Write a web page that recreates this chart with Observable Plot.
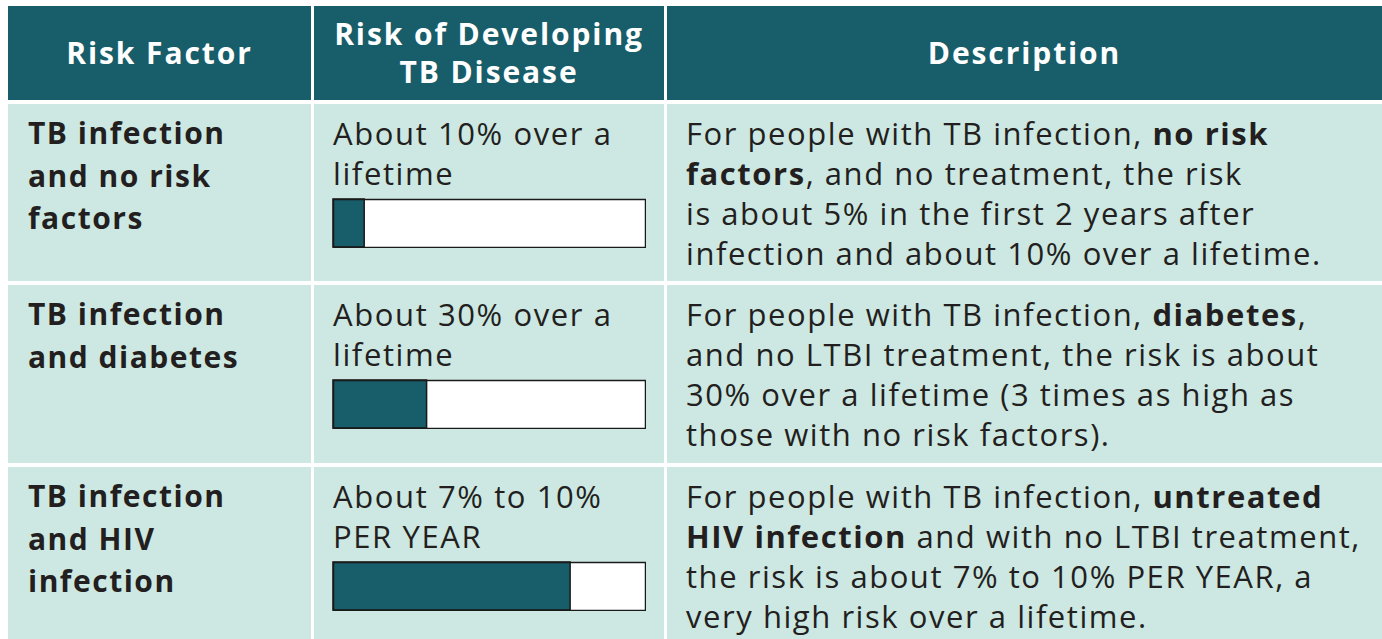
<!DOCTYPE html>
<html>
<head>
<meta charset="utf-8">
<script src="https://cdn.jsdelivr.net/npm/d3@7"></script>
<script src="https://cdn.jsdelivr.net/npm/@observablehq/plot@0.6"></script>
<style>
  html, body { margin: 0; padding: 0; background: #ffffff; width: 1382px; height: 639px; overflow: hidden; }
  #table {
    position: absolute; left: 8px; top: 6px;
    display: grid;
    grid-template-columns: 303px 350px 715px;
    grid-template-rows: 94px 177px 178px 180px;
    column-gap: 3px; row-gap: 4px;
    font-family: "Open Sans", Lato, sans-serif;
    color: #231f20;
  }
  .head {
    background: #175d6a; color: #ffffff; font-weight: 700;
    font-size: 30px; line-height: 38px;
    display: flex; flex-direction: column; justify-content: center; align-items: center;
    letter-spacing: 1.9px;
  }
  .cell { background: #cde8e2; box-sizing: border-box; white-space: nowrap; }
  .factor { font-weight: 700; font-size: 30px; line-height: 42.5px; padding: 8px 0 0 20px; letter-spacing: 1.5px; }
  .risk { font-size: 31px; line-height: 40px; padding: 9px 0 0 19px; letter-spacing: 1.6px; }
  .desc { font-size: 31px; line-height: 40px; padding: 9px 0 0 19px; letter-spacing: 1.55px; }
  .desc b { font-weight: 700; }
  .bar { margin-top: 5px; margin-left: -1px; }
  .bar svg { display: block; }
</style>
</head>
<body>
<div id="table"></div>
<script>
// ---- data ----
const headers = [["Risk Factor"], ["Risk of Developing", "TB Disease"], ["Description"]];
const riskFactors = [
  ["TB infection", "and no risk", "factors"],
  ["TB infection", "and diabetes"],
  ["TB infection", "and HIV", "infection"]
];
const riskLabels = [
  ["About 10% over a", "lifetime"],
  ["About 30% over a", "lifetime"],
  ["About 7% to 10%", "PER YEAR"]
];
const riskShares = [10, 30, 76];   // filled share of each bar (%)
const descriptions = [
  ["For people with TB infection, **no risk**",
   "**factors**, and no treatment, the risk",
   "is about 5% in the first 2 years after",
   "infection and about 10% over a lifetime."],
  ["For people with TB infection, **diabetes**,",
   "and no LTBI treatment, the risk is about",
   "30% over a lifetime (3 times as high as",
   "those with no risk factors)."],
  ["For people with TB infection, **untreated**",
   "**HIV infection** and with no LTBI treatment,",
   "the risk is about 7% to 10% PER YEAR, a",
   "very high risk over a lifetime."]
];

const teal = "#175d6a";
const table = document.getElementById("table");

function addLines(el, lines, rich) {
  for (const line of lines) {
    const div = document.createElement("div");
    if (rich) {
      line.split("**").forEach((part, i) => {
        if (!part) return;
        const node = i % 2 ? document.createElement("b") : document.createElement("span");
        node.textContent = part;
        div.appendChild(node);
      });
    } else div.textContent = line;
    el.appendChild(div);
  }
}

headers.forEach(h => {
  const c = document.createElement("div");
  c.className = "head";
  addLines(c, h, false);
  table.appendChild(c);
});

riskFactors.forEach((f, i) => {
  const c1 = document.createElement("div");
  c1.className = "cell factor";
  addLines(c1, f, false);
  table.appendChild(c1);

  const c2 = document.createElement("div");
  c2.className = "cell risk";
  addLines(c2, riskLabels[i], false);
  const barWrap = document.createElement("div");
  barWrap.className = "bar";
  const chart = Plot.plot({
    width: 314, height: 50,
    margin: 1,
    x: {domain: [0, 100], axis: null},
    y: {axis: null},
    marks: [
      Plot.barX([100], {x: d => d, fill: "#ffffff", insetLeft: 0, insetRight: 0}),
      Plot.barX([riskShares[i]], {x: d => d, fill: teal, stroke: "#1a1a1a", strokeWidth: 1.5, insetLeft: 0, insetRight: 0}),
      Plot.frame({stroke: "#1a1a1a", strokeWidth: 1.5})
    ]
  });
  barWrap.appendChild(chart);
  c2.appendChild(barWrap);
  table.appendChild(c2);

  const c3 = document.createElement("div");
  c3.className = "cell desc";
  addLines(c3, descriptions[i], true);
  table.appendChild(c3);
});
</script>
</body>
</html>
